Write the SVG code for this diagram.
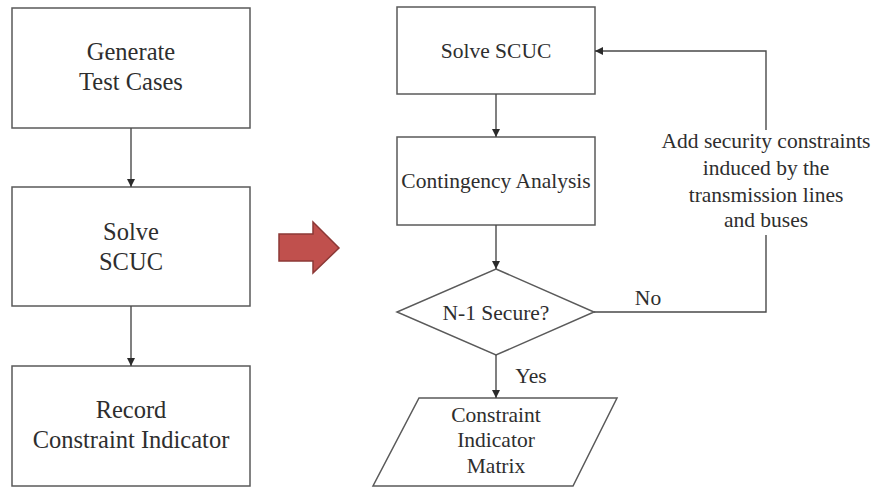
<svg xmlns="http://www.w3.org/2000/svg" width="873" height="487" viewBox="0 0 873 487">
  <style>
    .box { fill: #ffffff; stroke: #5a5a5a; stroke-width: 1.5; }
    .line { fill: none; stroke: #4a4a4a; stroke-width: 1.4; }
    .lbl { font-family: "Liberation Serif", "Times New Roman", serif; fill: #2e2e2e; text-anchor: middle; }
    .big { font-size: 24.5px; }
    .mid { font-size: 21.5px; }
  </style>
  <defs>
    <marker id="arrow" viewBox="0 0 10 10" refX="10" refY="5" markerWidth="8" markerHeight="8" markerUnits="userSpaceOnUse" orient="auto">
      <path d="M0,0 L10,5 L0,10 z" fill="#2a2a2a"/>
    </marker>
  </defs>

  <rect width="873" height="487" fill="#ffffff"/>

  <!-- left column -->
  <g id="generate">
    <rect class="box" x="12" y="8" width="238" height="120"/>
    <text class="lbl big" x="131" y="60">Generate</text>
    <text class="lbl big" x="131" y="90">Test Cases</text>
  </g>
  <g id="solve-left">
    <rect class="box" x="12" y="187" width="238" height="119"/>
    <text class="lbl big" x="131" y="240">Solve</text>
    <text class="lbl big" x="131" y="270">SCUC</text>
  </g>
  <g id="record">
    <rect class="box" x="12" y="366" width="238" height="120"/>
    <text class="lbl big" x="131" y="418">Record</text>
    <text class="lbl big" x="131" y="448">Constraint Indicator</text>
  </g>

  <!-- block arrow between the two procedures -->
  <g id="transition">
    <path d="M279,234 L313,234 L313,222 L339,248 L313,273 L313,261 L279,261 Z" fill="#c0504d" stroke="#8c3836" stroke-width="1.5"/>
  </g>

  <!-- right column -->
  <g id="solve-right">
    <rect class="box" x="397" y="7" width="198" height="87"/>
    <text class="lbl mid" x="496" y="58">Solve SCUC</text>
  </g>
  <g id="contingency">
    <rect class="box" x="397" y="137" width="198" height="88"/>
    <text class="lbl mid" x="496" y="188">Contingency Analysis</text>
  </g>
  <g id="secure-check">
    <polygon class="box" points="496,269 594,312 496,355 397,312"/>
    <text class="lbl mid" x="496" y="320">N-1 Secure?</text>
  </g>
  <g id="matrix">
    <polygon class="box" points="419,398 617,398 573,486 373,486"/>
    <text class="lbl mid" x="496" y="422">Constraint</text>
    <text class="lbl mid" x="496" y="447">Indicator</text>
    <text class="lbl mid" x="496" y="473">Matrix</text>
  </g>
  <g id="feedback-label">
    <text class="lbl mid" x="766" y="148">Add security constraints</text>
    <text class="lbl mid" x="766" y="175">induced by the</text>
    <text class="lbl mid" x="766" y="202">transmission lines</text>
    <text class="lbl mid" x="766" y="227">and buses</text>
  </g>

  <g id="connectors">
    <line class="line" x1="131" y1="128" x2="131" y2="187" marker-end="url(#arrow)"/>
    <line class="line" x1="131" y1="306" x2="131" y2="366" marker-end="url(#arrow)"/>
    <line class="line" x1="496" y1="94" x2="496" y2="137" marker-end="url(#arrow)"/>
    <line class="line" x1="496" y1="225" x2="496" y2="269" marker-end="url(#arrow)"/>
    <line class="line" x1="496" y1="355" x2="496" y2="398" marker-end="url(#arrow)"/>
    <text class="lbl mid" x="531" y="383">Yes</text>
    <polyline class="line" points="594,312 766,312 766,235"/>
    <polyline class="line" points="766,130 766,51 595,51" marker-end="url(#arrow)"/>
    <text class="lbl mid" x="648" y="305">No</text>
  </g>
</svg>
